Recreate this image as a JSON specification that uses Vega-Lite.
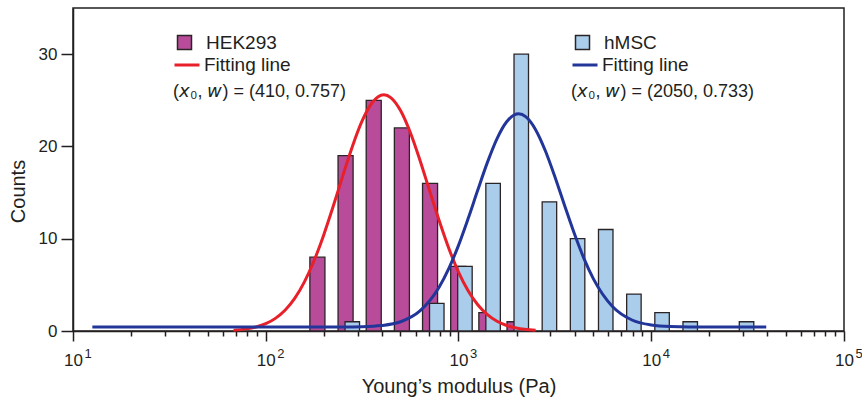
{
  "$schema": "https://vega.github.io/schema/vega-lite/v6.json",
  "width": 771,
  "height": 323,
  "autosize": {"type": "none"},
  "padding": {"left": 73, "top": 8, "right": 18, "bottom": 67},
  "background": "white",
  "config": {
    "font": "Liberation Sans",
    "view": {"stroke": "#231F20", "strokeWidth": 1.5},
    "axis": {
      "grid": false,
      "domainColor": "#231F20",
      "domainWidth": 1.5,
      "tickColor": "#231F20",
      "tickWidth": 1.5,
      "labelColor": "#231F20",
      "titleColor": "#231F20",
      "labelFont": "Liberation Sans",
      "titleFont": "Liberation Sans",
      "labelFontSize": 17,
      "titleFontSize": 20,
      "titleFontWeight": "normal",
      "labelFlush": false,
      "labelOverlap": false,
      "labelBound": false
    },
    "legend": {
      "labelFont": "Liberation Sans",
      "titleFont": "Liberation Sans",
      "labelColor": "#231F20",
      "titleColor": "#231F20",
      "labelFontSize": 19,
      "titleFontSize": 18,
      "titleFontWeight": "normal",
      "padding": 0,
      "labelLimit": 0,
      "titleLimit": 0
    }
  },
  "datasets": {
    "hek": [
      {"lo": 169.4, "hi": 202.8, "count": 8, "cell": "HEK293"},
      {"lo": 237.2, "hi": 283.9, "count": 19, "cell": "HEK293"},
      {"lo": 332.0, "hi": 397.4, "count": 25, "cell": "HEK293"},
      {"lo": 464.8, "hi": 556.3, "count": 22, "cell": "HEK293"},
      {"lo": 650.8, "hi": 778.8, "count": 16, "cell": "HEK293"},
      {"lo": 910.9, "hi": 1090.2, "count": 7, "cell": "HEK293"},
      {"lo": 1275.3, "hi": 1526.2, "count": 2, "cell": "HEK293"},
      {"lo": 1785.2, "hi": 2136.6, "count": 1, "cell": "HEK293"}
    ],
    "hmsc": [
      {"lo": 257.9, "hi": 306.6, "count": 1, "cell": "hMSC"},
      {"lo": 707.5, "hi": 841.2, "count": 3, "cell": "hMSC"},
      {"lo": 990.4, "hi": 1177.6, "count": 7, "cell": "hMSC"},
      {"lo": 1386.4, "hi": 1648.5, "count": 16, "cell": "hMSC"},
      {"lo": 1941.0, "hi": 2307.8, "count": 30, "cell": "hMSC"},
      {"lo": 2717.0, "hi": 3230.7, "count": 14, "cell": "hMSC"},
      {"lo": 3803.6, "hi": 4522.8, "count": 10, "cell": "hMSC"},
      {"lo": 5324.4, "hi": 6331.8, "count": 11, "cell": "hMSC"},
      {"lo": 7454.2, "hi": 8862.7, "count": 4, "cell": "hMSC"},
      {"lo": 10435, "hi": 12408, "count": 2, "cell": "hMSC"},
      {"lo": 14608, "hi": 17370, "count": 1, "cell": "hMSC"},
      {"lo": 28629, "hi": 34041, "count": 1, "cell": "hMSC"}
    ],
    "hekfit": [
      {"E": 68.1, "y": 0.09, "fit": "Fitting line"},
      {"E": 79.4, "y": 0.23, "fit": "Fitting line"},
      {"E": 89.1, "y": 0.44, "fit": "Fitting line"},
      {"E": 100, "y": 0.79, "fit": "Fitting line"},
      {"E": 112.2, "y": 1.37, "fit": "Fitting line"},
      {"E": 125.9, "y": 2.25, "fit": "Fitting line"},
      {"E": 141.3, "y": 3.53, "fit": "Fitting line"},
      {"E": 158.5, "y": 5.29, "fit": "Fitting line"},
      {"E": 177.8, "y": 7.58, "fit": "Fitting line"},
      {"E": 199.5, "y": 10.36, "fit": "Fitting line"},
      {"E": 223.9, "y": 13.51, "fit": "Fitting line"},
      {"E": 251.2, "y": 16.84, "fit": "Fitting line"},
      {"E": 281.8, "y": 20.03, "fit": "Fitting line"},
      {"E": 316.2, "y": 22.76, "fit": "Fitting line"},
      {"E": 354.8, "y": 24.68, "fit": "Fitting line"},
      {"E": 410, "y": 25.6, "fit": "Fitting line"},
      {"E": 446.7, "y": 25.27, "fit": "Fitting line"},
      {"E": 501.2, "y": 23.86, "fit": "Fitting line"},
      {"E": 562.3, "y": 21.51, "fit": "Fitting line"},
      {"E": 631.0, "y": 18.51, "fit": "Fitting line"},
      {"E": 707.9, "y": 15.21, "fit": "Fitting line"},
      {"E": 794.3, "y": 11.94, "fit": "Fitting line"},
      {"E": 891.3, "y": 8.94, "fit": "Fitting line"},
      {"E": 1000, "y": 6.39, "fit": "Fitting line"},
      {"E": 1122, "y": 4.37, "fit": "Fitting line"},
      {"E": 1258.9, "y": 2.85, "fit": "Fitting line"},
      {"E": 1412.5, "y": 1.77, "fit": "Fitting line"},
      {"E": 1584.9, "y": 1.05, "fit": "Fitting line"},
      {"E": 1778, "y": 0.6, "fit": "Fitting line"},
      {"E": 1995.3, "y": 0.32, "fit": "Fitting line"},
      {"E": 2511.9, "y": 0.08, "fit": "Fitting line"}
    ],
    "hmscfit": [
      {"E": 12.6, "y": 0.43, "fit": "Fitting line"},
      {"E": 100, "y": 0.43, "fit": "Fitting line"},
      {"E": 251.2, "y": 0.44, "fit": "Fitting line"},
      {"E": 316.2, "y": 0.47, "fit": "Fitting line"},
      {"E": 398.1, "y": 0.59, "fit": "Fitting line"},
      {"E": 501.2, "y": 1.0, "fit": "Fitting line"},
      {"E": 631.0, "y": 2.17, "fit": "Fitting line"},
      {"E": 794.3, "y": 4.76, "fit": "Fitting line"},
      {"E": 891.3, "y": 6.78, "fit": "Fitting line"},
      {"E": 1000, "y": 9.28, "fit": "Fitting line"},
      {"E": 1122, "y": 12.18, "fit": "Fitting line"},
      {"E": 1258.9, "y": 15.27, "fit": "Fitting line"},
      {"E": 1412.5, "y": 18.27, "fit": "Fitting line"},
      {"E": 1584.9, "y": 20.85, "fit": "Fitting line"},
      {"E": 1778.3, "y": 22.67, "fit": "Fitting line"},
      {"E": 2050, "y": 23.53, "fit": "Fitting line"},
      {"E": 2238.7, "y": 23.2, "fit": "Fitting line"},
      {"E": 2511.9, "y": 21.82, "fit": "Fitting line"},
      {"E": 2818.4, "y": 19.56, "fit": "Fitting line"},
      {"E": 3162.3, "y": 16.72, "fit": "Fitting line"},
      {"E": 3548.1, "y": 13.63, "fit": "Fitting line"},
      {"E": 3981.1, "y": 10.61, "fit": "Fitting line"},
      {"E": 4466.8, "y": 7.9, "fit": "Fitting line"},
      {"E": 5011.9, "y": 5.65, "fit": "Fitting line"},
      {"E": 6309.6, "y": 2.63, "fit": "Fitting line"},
      {"E": 7943.3, "y": 1.19, "fit": "Fitting line"},
      {"E": 10000, "y": 0.65, "fit": "Fitting line"},
      {"E": 12589, "y": 0.48, "fit": "Fitting line"},
      {"E": 15849, "y": 0.44, "fit": "Fitting line"},
      {"E": 39500, "y": 0.43, "fit": "Fitting line"}
    ]
  },
  "layer": [
    {
      "data": {"name": "hek"},
      "mark": {"type": "rect", "stroke": "#2A2427", "strokeWidth": 1.3},
      "encoding": {
        "x": {
          "field": "lo", "type": "quantitative",
          "scale": {"type": "log", "domain": [10, 100000], "nice": false},
          "axis": {
            "orient": "bottom",
            "values": [10, 100, 1000, 10000, 100000],
            "labelExpr": "'10'",
            "tickSize": 10,
            "labelPadding": 24,
            "labelBaseline": "alphabetic",
            "title": "Young’s modulus (Pa)",
            "titlePadding": 8
          }
        },
        "x2": {"field": "hi"},
        "y": {
          "field": "count", "type": "quantitative",
          "scale": {"domain": [0, 35], "nice": false},
          "title": "Counts",
          "axis": {
            "values": [0, 10, 20, 30],
            "tickSize": 12,
            "labelPadding": 4,
            "titleAngle": -90,
            "titlePadding": 10,
            "titleY": 183
          }
        },
        "y2": {"datum": 0},
        "fill": {
          "field": "cell", "type": "nominal",
          "scale": {"range": ["#B84C9A"]},
          "legend": {
            "orient": "none", "legendX": 102, "legendY": 25,
            "title": null, "symbolType": "square", "symbolSize": 196,
            "symbolStrokeColor": "#2A2427", "symbolStrokeWidth": 1.5,
            "symbolOpacity": 1, "labelOffset": 12
          }
        }
      }
    },
    {
      "data": {"name": "hmsc"},
      "mark": {"type": "rect", "stroke": "#2A2427", "strokeWidth": 1.3},
      "encoding": {
        "x": {
          "field": "lo", "type": "quantitative",
          "axis": {
            "orient": "bottom",
            "values": [20, 30, 40, 50, 60, 70, 80, 90, 200, 300, 400, 500, 600, 700, 800, 900, 2000, 3000, 4000, 5000, 6000, 7000, 8000, 9000, 20000, 30000, 40000, 50000, 60000, 70000, 80000, 90000],
            "labels": false, "domain": false, "tickSize": 5, "title": null
          }
        },
        "x2": {"field": "hi"},
        "y": {"field": "count", "type": "quantitative", "title": "Counts"},
        "y2": {"datum": 0},
        "fill": {
          "field": "cell", "type": "nominal",
          "scale": {"range": ["#A9CDEB"]},
          "legend": {
            "orient": "none", "legendX": 500, "legendY": 25,
            "title": null, "symbolType": "square", "symbolSize": 196,
            "symbolStrokeColor": "#2A2427", "symbolStrokeWidth": 1.5,
            "symbolOpacity": 1, "labelOffset": 12
          }
        }
      }
    },
    {
      "data": {"name": "hekfit"},
      "mark": {"type": "line", "strokeWidth": 3, "interpolate": "monotone"},
      "encoding": {
        "x": {
          "field": "E", "type": "quantitative",
          "axis": {
            "orient": "bottom",
            "values": [10, 100, 1000, 10000, 100000],
            "labelExpr": "'' + round(log(datum.value) / LN10)",
            "ticks": false, "tickSize": 0, "domain": false,
            "labelAlign": "left", "labelOffset": 11, "labelFontSize": 13,
            "labelPadding": 26, "labelBaseline": "alphabetic",
            "title": null
          }
        },
        "y": {"field": "y", "type": "quantitative", "title": "Counts"},
        "stroke": {
          "field": "fit", "type": "nominal",
          "scale": {"range": ["#E8202A"]},
          "legend": {
            "orient": "none", "legendX": 100, "legendY": 43,
            "title": "(𝘹₀, 𝘸) = (410, 0.757)",
            "titleOrient": "bottom", "titleAnchor": "start", "titlePadding": 8,
            "symbolType": "stroke", "symbolSize": 625, "symbolStrokeWidth": 3,
            "labelOffset": 3
          }
        }
      }
    },
    {
      "data": {"name": "hmscfit"},
      "mark": {"type": "line", "strokeWidth": 3, "interpolate": "monotone"},
      "encoding": {
        "x": {"field": "E", "type": "quantitative", "axis": null},
        "y": {"field": "y", "type": "quantitative", "title": "Counts"},
        "stroke": {
          "field": "fit", "type": "nominal",
          "scale": {"range": ["#22369A"]},
          "legend": {
            "orient": "none", "legendX": 498, "legendY": 43,
            "title": "(𝘹₀, 𝘸) = (2050, 0.733)",
            "titleOrient": "bottom", "titleAnchor": "start", "titlePadding": 8,
            "symbolType": "stroke", "symbolSize": 625, "symbolStrokeWidth": 3,
            "labelOffset": 3
          }
        }
      }
    }
  ],
  "resolve": {
    "scale": {"fill": "independent", "stroke": "independent"},
    "axis": {"x": "independent"}
  }
}
